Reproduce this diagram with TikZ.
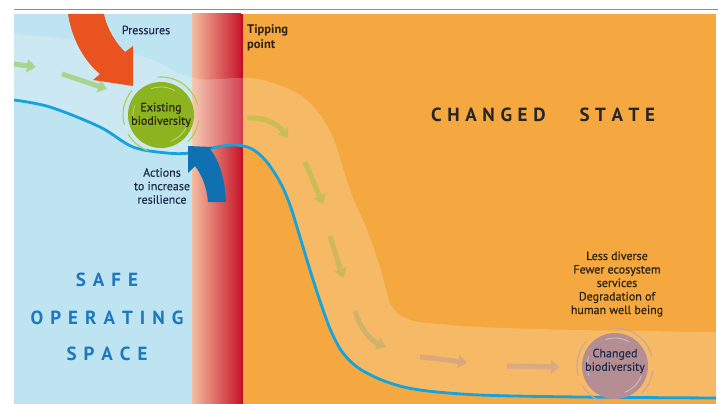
\documentclass[tikz,border=0pt]{standalone}
\usepackage{fontspec}
\setmainfont{PT Sans}
\newfontfamily\medfont{PT Sans}[FakeBold=0.4]
\usetikzlibrary{arrows.meta}
\definecolor{bgblue}{HTML}{BEE3F1}
\definecolor{bgorange}{HTML}{F4A83F}
\definecolor{redL}{HTML}{F4BC9F}
\definecolor{redR}{HTML}{C8172B}
\definecolor{redline}{HTML}{C40F23}
\definecolor{topline}{HTML}{C8862A}
\definecolor{curve}{HTML}{16A3DC}
\definecolor{press}{HTML}{E8531F}
\definecolor{act}{HTML}{0F70B2}
\definecolor{egreen}{HTML}{8BB41E}
\definecolor{earc}{HTML}{A9CF4E}
\definecolor{cmauve}{HTML}{B48E93}
\definecolor{carc}{HTML}{C9A4A8}
\definecolor{navy}{HTML}{1F2B4D}
\definecolor{safeblue}{HTML}{1E78BE}
\definecolor{darktxt}{HTML}{2B2213}
\definecolor{ga}{HTML}{A9D48F}
\definecolor{gb}{HTML}{C9BE52}
\definecolor{gc}{HTML}{CDB95C}
\definecolor{gd}{HTML}{D2B26B}
\definecolor{ge}{HTML}{D9A97C}
\definecolor{gf}{HTML}{DBA985}
\newcommand\KK{\kern7pt}
\newcommand\KC{\kern5.6pt}
\begin{document}
\begin{tikzpicture}[x=1pt,y=-1pt,
  flow/.style={line width=5pt, -{Triangle[width=13pt,length=9pt]}},
  lab/.style={font=\medfont\fontsize{12}{13.5}\selectfont, align=center, inner sep=0pt},
  big/.style={font=\bfseries\fontsize{19}{20}\selectfont, inner sep=0pt},
  outarc/.style={line width=1.1pt},
  inarc/.style={white, opacity=.45, line width=.8pt}]
\useasboundingbox (0,0) rectangle (718,404);
% backgrounds
\fill[bgblue] (14,14) rectangle (192,404);
\shade[left color=redL, right color=redR] (192,14) rectangle (241,404);
\fill[redline] (241,14) rectangle (243,404);
\fill[bgorange] (243,14) rectangle (716,404);
% light band
\fill[white, opacity=.2] plot[smooth, tension=.55] coordinates {(14,34) (80,41) (145,57) (192,78) (240,78) (263,80) (297,93) (318,112) (334,140) (350,190) (367,230) (380,267) (389,300) (396,312) (406,318) (420,322) (480,327) (580,330) (716,332)}
  -- plot[smooth, tension=.55] coordinates {(716,398) (580,397) (480,395) (420,390) (387,382) (360,369) (343,353) (331,331) (320,301) (310,270) (300,237) (290,205) (280,182) (266,161) (252,149) (236,145) (217,147) (190,153) (167,153) (133,147) (100,127) (50,107) (14,100)} -- cycle;
% top rule
\draw[topline, line width=1.3pt] (14,9.5) -- (718,9.5);
% flow arrows
\draw[flow, ga] (14,64) -- (36,67);
\draw[flow, ga] (62,74) -- (107,89);
\draw[flow, gb] (247,118) .. controls (265,117) and (278,124) .. (288,138);
\draw[flow, gb] (305,162) -- (323,204);
\draw[flow, gc] (330,236) -- (343,278);
\draw[flow, gd] (355,311) .. controls (360,328) and (370,340) .. (386,347);
\draw[flow, ge] (420,357) .. controls (440,359) and (455,361) .. (467,363);
\draw[flow, gf] (507,366) -- (560,367);
% blue curve
\draw[curve, line width=2.8pt] plot[smooth, tension=.55] coordinates {(14,100) (50,107) (100,127) (133,147) (167,153) (190,153) (217,147) (236,145) (252,149) (266,161) (280,182) (290,205) (300,237) (310,270) (320,301) (331,331) (343,353) (360,369) (387,382) (420,390) (480,395) (580,397) (716,398)};
% pressures arrow
\fill[press] (68,14) .. controls (72,40) and (85,62) .. (100,74) -- (93,80) -- (133,86) -- (133,46) -- (125,52) .. controls (113,40) and (106,25) .. (104,14) -- cycle;
% actions arrow
\fill[act] (208,202) .. controls (207,188) and (202,175) .. (195,166) -- (188,173) -- (188,146) -- (212,147) -- (210,149) .. controls (219,160) and (225,178) .. (226,202) -- cycle;
% existing biodiversity
\coordinate (ec) at (161,115);
\fill[egreen] (ec) circle[radius=33];
\draw[outarc, earc] ([shift={(-15:38)}]ec) arc[start angle=-15, end angle=-95, radius=38];
\draw[outarc, earc] ([shift={(-140:38)}]ec) arc[start angle=-140, end angle=-195, radius=38];
\draw[outarc, earc] ([shift={(8:38)}]ec) arc[start angle=8, end angle=45, radius=38];
\draw[outarc, earc] ([shift={(110:38)}]ec) arc[start angle=110, end angle=150, radius=38];
\draw[inarc] ([shift={(-60:28)}]ec) arc[start angle=-60, end angle=-110, radius=28];
\draw[inarc] ([shift={(20:28)}]ec) arc[start angle=20, end angle=70, radius=28];
\draw[inarc] ([shift={(160:28)}]ec) arc[start angle=160, end angle=200, radius=28];
\node[lab, text=darktxt] (eb) at (ec) {Existing\\biodiversity};
% changed biodiversity
\coordinate (cc) at (615,366);
\fill[cmauve] (cc) circle[radius=33];
\draw[outarc, carc] ([shift={(-15:38)}]cc) arc[start angle=-15, end angle=-95, radius=38];
\draw[outarc, carc] ([shift={(-140:38)}]cc) arc[start angle=-140, end angle=-195, radius=38];
\draw[outarc, carc] ([shift={(8:38)}]cc) arc[start angle=8, end angle=45, radius=38];
\draw[outarc, carc] ([shift={(110:38)}]cc) arc[start angle=110, end angle=150, radius=38];
\draw[inarc] ([shift={(-60:28)}]cc) arc[start angle=-60, end angle=-110, radius=28];
\draw[inarc] ([shift={(20:28)}]cc) arc[start angle=20, end angle=70, radius=28];
\draw[inarc] ([shift={(160:28)}]cc) arc[start angle=160, end angle=200, radius=28];
\node[lab, text=navy] (cb) at (615,361) {Changed\\biodiversity};
% texts
\node[lab, text=navy] (pr) at (146,30) {Pressures};
\node[lab, font=\bfseries\fontsize{12.5}{15}\selectfont, align=left, anchor=west, text=darktxt] (tp) at (247,38) {Tipping\\point};
\node[lab, text=navy] (ac) at (162,186) {Actions\\to increase\\resilience};
\node[lab, text=darktxt] (ld) at (617,284) {Less diverse\\Fewer ecosystem\\services\\Degradation of\\human well being};
\node[big, text=black!85, anchor=west] (cs) at (431,115) {C\KC H\KC A\KC N\KC G\KC E\KC D\kern34pt S\KC T\KC A\KC T\KC E};
\node[big, text=safeblue] (s1) at (107,280) {S\KK A\KK F\KK E};
\node[big, text=safeblue] (s2) at (107,318) {O\KK P\KK E\KK R\KK A\KK T\KK I\KK N\KK G};
\node[big, text=safeblue] (s3) at (107,354) {S\KK P\KK A\KK C\KK E};
\end{tikzpicture}
\end{document}
